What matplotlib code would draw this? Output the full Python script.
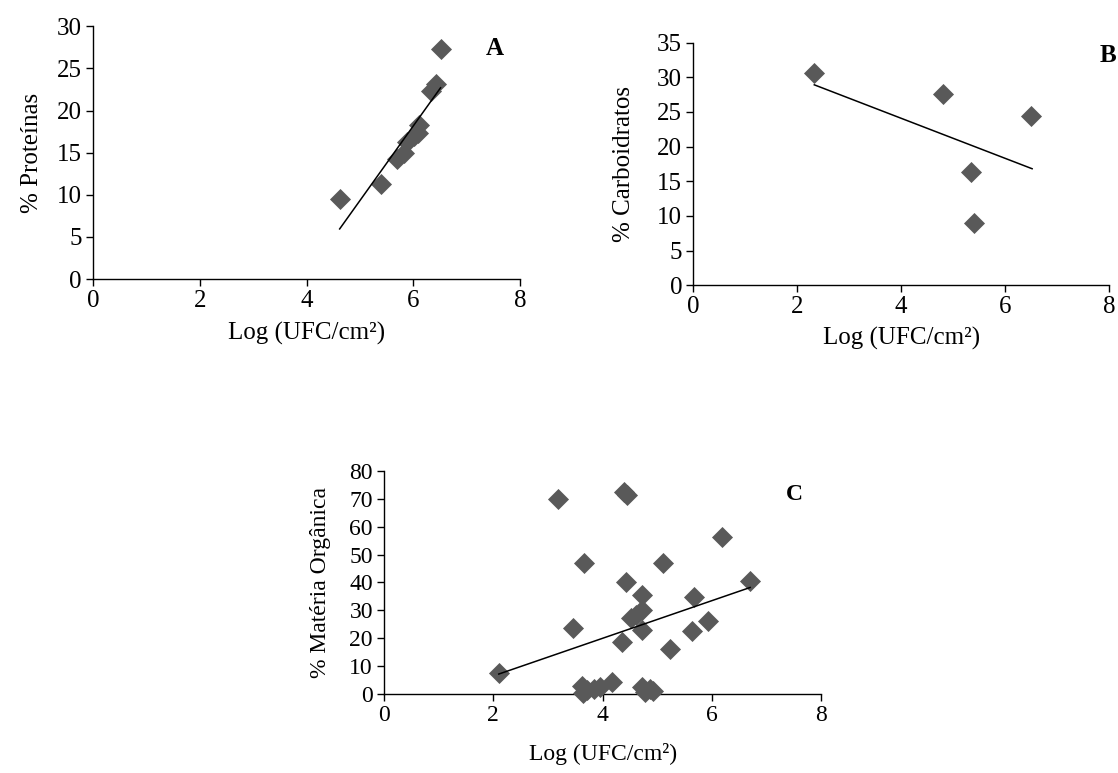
import numpy as np
import matplotlib.pyplot as plt

plt.rcParams['font.family'] = ['Liberation Serif', 'DejaVu Serif']

# Painel A - proteinas
prot_x = [4.62, 5.40, 5.70, 5.82, 5.88, 6.02, 6.10, 6.08, 6.33, 6.42, 6.51]
prot_y = [9.5, 11.3, 14.2, 15.0, 16.3, 17.0, 18.3, 17.3, 22.3, 23.1, 27.3]
prot_trend_x = [4.62, 6.51]
prot_trend_y = [5.95, 22.7]

# Painel B - carboidratos
carb_x = [2.33, 4.80, 6.50, 5.34, 5.41]
carb_y = [30.6, 27.6, 24.4, 16.3, 9.0]
carb_trend_x = [2.33, 6.52]
carb_trend_y = [28.9, 16.8]

# Painel C - materia organica
mo_x = [2.10, 3.19, 4.40, 4.45, 3.66, 5.10, 6.18, 6.69, 4.42, 4.72,
        5.67, 4.72, 4.52, 4.62, 4.72, 3.46, 4.36, 5.23, 5.64, 5.93,
        3.62, 3.65, 3.72, 3.85, 3.95, 4.17, 4.72, 4.78, 4.86, 4.92]
mo_y = [7.6, 69.9, 72.3, 71.2, 47.0, 47.0, 56.1, 40.6, 40.0, 35.5,
        34.9, 30.1, 27.2, 28.5, 23.0, 23.8, 18.8, 16.0, 22.5, 26.3,
        3.0, 0.5, 1.5, 2.0, 2.6, 4.3, 2.4, 0.8, 1.8, 1.2]
mo_trend_x = [2.10, 6.70]
mo_trend_y = [7.2, 38.2]

marker_color = '#595959'


def painel(ax, x, y, tx, ty, ymax, ystep, ylabel, letra, lpos, fs, xpad, ypad):
    ax.scatter(x, y, marker='D', s=115, color=marker_color, linewidths=0, zorder=3)
    ax.plot(tx, ty, color='black', lw=1.1, zorder=4)
    ax.set_xlim(0, 8)
    ax.set_ylim(0, ymax)
    ax.set_xticks(np.arange(0, 9, 2))
    ax.set_yticks(np.arange(0, ymax + 1, ystep))
    for s in ['top', 'right']:
        ax.spines[s].set_visible(False)
    for s in ['left', 'bottom']:
        ax.spines[s].set_linewidth(1.0)
    ax.tick_params(direction='out', length=5, width=1.0, labelsize=fs, pad=3)
    ax.set_xlabel('Log (UFC/cm²)', fontsize=fs, labelpad=xpad)
    ax.set_ylabel(ylabel, fontsize=fs, labelpad=ypad)
    ax.text(lpos[0], lpos[1], letra, transform=ax.transAxes, fontsize=fs,
            fontweight='bold', ha='center', va='center')
    for c in ax.collections:
        c.set_clip_on(False)


fig = plt.figure(figsize=(11.18, 7.73), dpi=100)

ax_a = fig.add_axes([0.0832, 0.639, 0.382, 0.327])
painel(ax_a, prot_x, prot_y, prot_trend_x, prot_trend_y, 30, 5,
       '% Proteínas', 'A', (0.94, 0.913), 18, 7, 10)

ax_b = fig.add_axes([0.620, 0.631, 0.372, 0.314])
painel(ax_b, carb_x, carb_y, carb_trend_x, carb_trend_y, 35, 5,
       '% Carboidratos', 'B', (0.998, 0.947), 18, 6, 16)

ax_c = fig.add_axes([0.3435, 0.102, 0.391, 0.289])
painel(ax_c, mo_x, mo_y, mo_trend_x, mo_trend_y, 80, 10,
       '% Matéria Orgânica', 'C', (0.938, 0.892), 17, 12, 13)

fig.savefig('out.png', dpi=100)
